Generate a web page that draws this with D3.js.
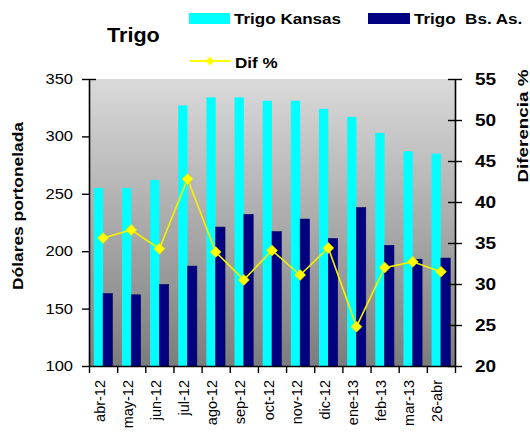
<!DOCTYPE html>
<html>
<head>
<meta charset="utf-8">
<script src="https://cdn.jsdelivr.net/npm/d3@7"></script>
<style>
html,body{margin:0;padding:0;background:#fff;}
svg{display:block;font-family:"Liberation Sans",Arial,sans-serif;}
</style>
</head>
<body>
<svg id="chart" width="530" height="434"></svg>
<script>
const categories = ["abr-12","may-12","jun-12","jul-12","ago-12","sep-12","oct-12","nov-12","dic-12","ene-13","feb-13","mar-13","26-abr"];
const kansas = [255,255,262,327,334,334,331,331,324,317,303,287,285];
const bsas   = [163,162,171,187,221,232,217,228,211,238,205,193,194];
const difPct = [35.6,36.6,34.3,42.8,33.9,30.5,34.1,31.1,34.4,24.8,32.0,32.7,31.5];
const leftTicks = [100,150,200,250,300,350];
const rightTicks = [20,25,30,35,40,45,50,55];
const seriesNames = ["Trigo Kansas","Trigo  Bs. As.","Dif %"];

const svg = d3.select("#chart");
const L = 89, R = 455, T = 79, B = 366;

// gradient background
const defs = svg.append("defs");
const grad = defs.append("linearGradient").attr("id","bg").attr("x1",0).attr("y1",0).attr("x2",0).attr("y2",1);
grad.append("stop").attr("offset","0%").attr("stop-color","#dadada");
grad.append("stop").attr("offset","100%").attr("stop-color","#7c7c7c");
svg.append("rect").attr("x",L).attr("y",T).attr("width",R-L).attr("height",B-T).attr("fill","url(#bg)");

const x = d3.scaleBand().domain(categories).range([L,R]).padding(0);
const xs = d3.scaleBand().domain(["k","b"]).range([0,x.bandwidth()]).paddingInner(0).paddingOuter(0.51);
const yL = d3.scaleLinear().domain([100,350]).range([B,T]);
const yR = d3.scaleLinear().domain([20,55]).range([B,T]);

// bars
svg.append("g").selectAll("rect").data(categories).join("rect")
  .attr("x",(d)=>x(d)+xs("k")).attr("width",xs.bandwidth())
  .attr("y",(d,i)=>yL(kansas[i])).attr("height",(d,i)=>yL(100)-yL(kansas[i]))
  .attr("fill","#00ffff");
svg.append("g").selectAll("rect").data(categories).join("rect")
  .attr("x",(d)=>x(d)+xs("b")).attr("width",xs.bandwidth())
  .attr("y",(d,i)=>yL(bsas[i])).attr("height",(d,i)=>yL(100)-yL(bsas[i]))
  .attr("fill","#000080").attr("stroke","#00005a").attr("stroke-width",0.6);

// line
const cx = (d)=>x(d)+x.bandwidth()/2;
const line = d3.line().x((d,i)=>cx(categories[i])).y((d)=>yR(d));
svg.append("path").datum(difPct).attr("d",line).attr("fill","none")
  .attr("stroke","#f2f200").attr("stroke-width",1.6);
const diamond = "M0,-5.5L5.5,0L0,5.5L-5.5,0Z";
svg.append("g").selectAll("path").data(difPct).join("path")
  .attr("d",diamond)
  .attr("transform",(d,i)=>`translate(${cx(categories[i])},${yR(d)})`)
  .attr("fill","#ffff00").attr("stroke","#e0e000").attr("stroke-width",0.6);

// axes
const axL = svg.append("g").attr("transform",`translate(${L},0)`)
  .call(d3.axisLeft(yL).tickValues(leftTicks).tickSize(7).tickSizeOuter(0).tickFormat(""));
const axR = svg.append("g").attr("transform",`translate(${R},0)`)
  .call(d3.axisRight(yR).tickValues(rightTicks).tickSize(7).tickSizeOuter(0).tickFormat(""));
axR.selectAll(".tick line").attr("x1",-7);
axL.selectAll(".tick").filter(d=>d===350).select("line").attr("x1",7);
const xb = d3.scaleLinear().domain([0,categories.length]).range([L,R]);
const axB = svg.append("g").attr("transform",`translate(0,${B})`)
  .call(d3.axisBottom(xb).tickValues(d3.range(0,categories.length+1)).tickSize(7).tickSizeOuter(0).tickFormat(""));
[axL,axR,axB].forEach(a=>{
  a.select(".domain").attr("stroke","#000").attr("stroke-width",1.6);
  a.selectAll(".tick line").attr("stroke","#000").attr("stroke-width",1.4);
});

// tick labels
svg.append("g").selectAll("text").data(leftTicks).join("text")
  .attr("transform",d=>`translate(73,${yL(d)+5}) scale(1.18,1)`)
  .attr("text-anchor","end").attr("font-size",14).attr("fill","#000")
  .text(d=>d);
svg.append("g").selectAll("text").data(rightTicks).join("text")
  .attr("transform",d=>`translate(475,${yR(d)+6}) scale(1.12,1)`)
  .attr("font-size",17).attr("font-weight","bold").attr("fill","#000")
  .text(d=>d);
svg.append("g").selectAll("text").data(categories).join("text")
  .attr("transform",d=>`translate(${cx(d)+1.5},380) rotate(-90)`)
  .attr("text-anchor","end").attr("font-size",14.5).attr("fill","#000")
  .text(d=>d);

// axis titles
svg.append("text").attr("transform","translate(23,206) rotate(-90)")
  .attr("text-anchor","middle").attr("font-size",14).attr("font-weight","bold")
  .attr("textLength",168).attr("lengthAdjust","spacingAndGlyphs")
  .text("Dólares portonelada");
svg.append("text").attr("transform","translate(528,126) rotate(-90)")
  .attr("text-anchor","middle").attr("font-size",14).attr("font-weight","bold")
  .attr("textLength",113).attr("lengthAdjust","spacingAndGlyphs")
  .text("Diferencia %");

// title
svg.append("text").attr("transform","translate(107,42) scale(1.08,1)")
  .attr("font-size",20).attr("font-weight","bold").text("Trigo");

// legend
svg.append("rect").attr("x",189).attr("y",13).attr("width",41).attr("height",11).attr("fill","#00ffff");
svg.append("text").attr("transform","translate(234,24) scale(1.1,1)")
  .attr("font-size",15.5).attr("font-weight","bold").text(seriesNames[0]);
svg.append("rect").attr("x",368).attr("y",13).attr("width",42).attr("height",11).attr("fill","#000080");
svg.append("text").attr("transform","translate(414,24) scale(1.1,1)")
  .attr("font-size",15.5).attr("font-weight","bold").style("white-space","pre")
  .text(seriesNames[1]);
svg.append("line").attr("x1",190).attr("x2",231).attr("y1",61).attr("y2",61)
  .attr("stroke","#ffff00").attr("stroke-width",2);
svg.append("path").attr("d","M0,-4.5L4.5,0L0,4.5L-4.5,0Z").attr("transform","translate(210,61)")
  .attr("fill","#ffff00");
svg.append("text").attr("transform","translate(235,68) scale(1.1,1)")
  .attr("font-size",15.5).attr("font-weight","bold").text(seriesNames[2]);
</script>
</body>
</html>
